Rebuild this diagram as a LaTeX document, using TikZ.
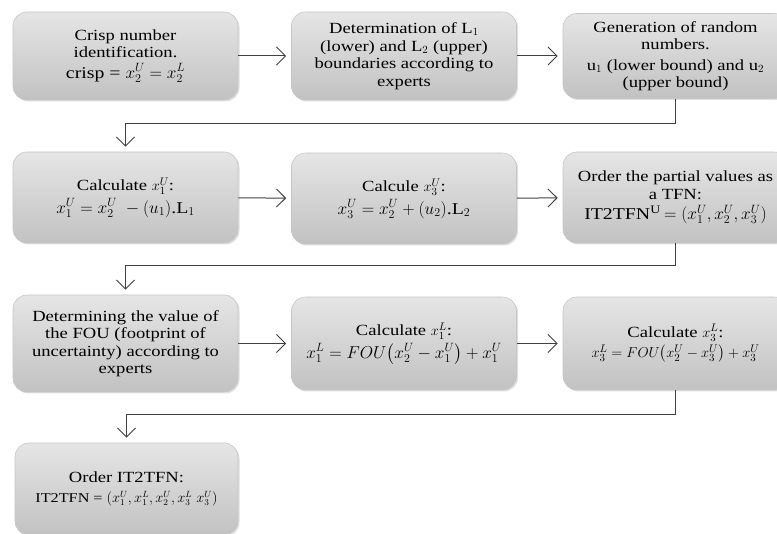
\documentclass[tikz,border=0pt]{standalone}
\usepackage{amsmath}
\usepackage{fontspec}
\setmainfont{Liberation Serif}[FakeStretch=1.2]
\usetikzlibrary{positioning,arrows.meta,shadows}

\newcommand{\eqline}{\fontsize{16.5}{19}\selectfont}

\tikzset{
  stepbox/.style={rounded corners=14pt, draw=gray!45, line width=0.6pt,
    top color=gray!20, bottom color=gray!48, minimum width=225pt,
    align=center, font=\fontsize{15.5}{17.5}\selectfont,
    drop shadow={opacity=0.25, shadow xshift=1.5pt, shadow yshift=-1.5pt}},
  flow/.style={draw=black!75, line width=1pt,
    -{Straight Barb[length=9pt,width=18pt]}, shorten >=5pt}
}

\begin{document}
\begin{tikzpicture}[x=1pt,y=-1pt]
	\useasboundingbox (0,0) rectangle (777,534);
	\node[stepbox, minimum height=88pt] (crisp) at (125.5,56) {Crisp number\\identification.\\[3pt]{\eqline crisp = $x_2^U = x_2^L$}};
	\node[stepbox, minimum height=88pt] (bounds) at (404,56) {Determination of L$_1$\\(lower) and L$_2$ (upper)\\boundaries according to\\experts};
	\node[stepbox, minimum height=85pt] (random) at (675.5,56) {Generation of random\\numbers.\\[3pt]u$_1$ (lower bound) and u$_2$\\(upper bound)};
	\node[stepbox, minimum height=91pt] (xoneU) at (125.5,197.5) {Calculate $x_1^U$:\\[3pt]{\eqline $x_1^U = x_2^U\ - (u_1)$.L$_1$}};
	\node[stepbox, minimum height=91pt] (xthreeU) at (404,198.5) {Calcule $x_3^U$:\\[3pt]{\eqline $x_3^U = x_2^U + (u_2)$.L$_2$}};
	\node[stepbox, minimum height=91pt] (tfnU) at (675.5,197.5) {Order the partial values as\\a TFN:\\[3pt]{\eqline IT2TFN$^{\mathrm{U}}$ $= (x_1^U, x_2^U, x_3^U)$}};
	\node[stepbox, minimum height=97pt] (fou) at (125.5,343.5) {Determining the value of\\the FOU (footprint of\\uncertainty) according to\\experts};
	\node[stepbox, minimum height=93pt] (xoneL) at (404,343.5) {Calculate $x_1^L$:\\[3pt]{\eqline $x_1^L = FOU\bigl(x_2^U - x_1^U\bigr) + x_1^U$}};
	\node[stepbox, minimum height=93pt] (xthreeL) at (675.5,343.5) {Calculate $x_3^L$:\\[3pt]$x_3^L = FOU\bigl(x_2^U - x_3^U\bigr) + x_3^U$};
	\node[stepbox, minimum width=223pt, minimum height=92pt] (order) at (126.5,489) {Order IT2TFN:\\[2pt]{\fontsize{13.5}{15}\selectfont IT2TFN = $(x_1^U, x_1^L, x_2^U, x_3^L\; x_3^U)$}};
	\draw[flow] (crisp) -- (bounds);
	\draw[flow] (bounds) -- (random);
	\draw[flow] (xoneU) -- (xthreeU);
	\draw[flow] (xthreeU) -- (tfnU);
	\draw[flow] (fou) -- (xoneL);
	\draw[flow] (xoneL) -- (xthreeL);
	\draw[flow] (random.south) -- ++(0,25) -| (xoneU.north);
	\draw[flow] (tfnU.south) -- ++(0,22) -| (fou.north);
	\draw[flow] (xthreeL.south) -- ++(0,24) -| (order.north);
\end{tikzpicture}
\end{document}
